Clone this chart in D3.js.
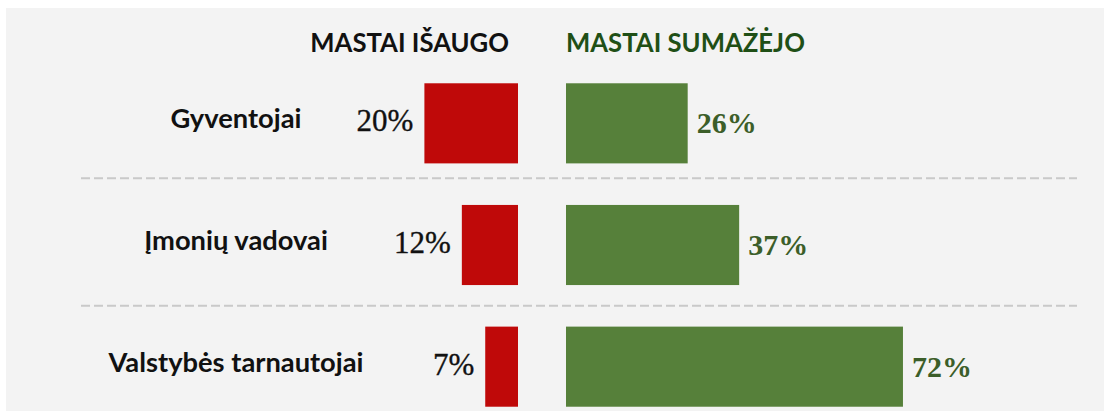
<!DOCTYPE html>
<html>
<head>
<meta charset="utf-8">
<script src="https://cdn.jsdelivr.net/npm/d3@7"></script>
<style>
  html, body { margin: 0; padding: 0; background: #ffffff; }
  svg { display: block; }
</style>
</head>
<body>
<svg id="chart" width="1104" height="411"></svg>
<script>
// ---- data ----
const categories = ["Gyventojai", "Įmonių vadovai", "Valstybės tarnautojai"];
const increased = [20, 12, 7];
const decreased = [26, 37, 72];
const headers = ["MASTAI IŠAUGO", "MASTAI SUMAŽĖJO"];

// ---- layout ----
const W = 1104, H = 411;
const svg = d3.select("#chart");
const splitLeft = 518, splitRight = 566;
const labelCenter = 236;

svg.append("rect").attr("x", 6).attr("y", 8).attr("width", W - 6).attr("height", H - 8)
  .attr("fill", "#f3f3f3");

const x = d3.scaleLinear().domain([0, 100]).range([0, 468]);
const y = d3.scaleBand().domain(categories)
  .range([62.5, 427.5]).paddingInner(0.3416).paddingOuter(0.1708);

const rows = categories.map((c, i) => ({ cat: c, inc: increased[i], dec: decreased[i] }));

// separators
const seps = categories.slice(1);
const sepY = (d, i) => y(d) - y.step() * y.paddingInner() / 2 - (i === 0 ? 6 : 0);
svg.selectAll("line.sep").data(seps).enter().append("line")
  .attr("class", "sep")
  .attr("x1", 81).attr("x2", 1077)
  .attr("y1", sepY).attr("y2", sepY)
  .attr("stroke", "#c9c9c9").attr("stroke-width", 2).attr("stroke-dasharray", "9,4");

// headers
svg.append("text").attr("x", 509).attr("y", 52).attr("text-anchor", "end")
  .attr("font-family", "Lato, 'Open Sans', sans-serif").attr("font-weight", 700)
  .attr("font-size", 25.7).attr("fill", "#111").text(headers[0]);
svg.append("text").attr("x", splitRight).attr("y", 52).attr("text-anchor", "start")
  .attr("font-family", "Lato, 'Open Sans', sans-serif").attr("font-weight", 700)
  .attr("font-size", 25.7).attr("fill", "#1f4f16").text(headers[1]);

// category labels
svg.selectAll("text.cat").data(rows).enter().append("text")
  .attr("class", "cat")
  .attr("x", labelCenter)
  .attr("y", d => y(d.cat) + y.bandwidth() / 2 + 5)
  .attr("text-anchor", "middle")
  .attr("font-family", "Lato, 'Open Sans', sans-serif").attr("font-weight", 700)
  .attr("font-size", 27.3).attr("fill", "#111")
  .text(d => d.cat);

// red bars (left)
svg.selectAll("rect.inc").data(rows).enter().append("rect")
  .attr("class", "inc")
  .attr("x", d => splitLeft - x(d.inc))
  .attr("y", d => y(d.cat))
  .attr("width", d => x(d.inc))
  .attr("height", y.bandwidth())
  .attr("fill", "#bf0909");

// green bars (right)
svg.selectAll("rect.dec").data(rows).enter().append("rect")
  .attr("class", "dec")
  .attr("x", splitRight)
  .attr("y", d => y(d.cat))
  .attr("width", d => x(d.dec))
  .attr("height", y.bandwidth())
  .attr("fill", "#56803a");

// value labels
svg.selectAll("text.incv").data(rows).enter().append("text")
  .attr("class", "incv")
  .attr("x", d => splitLeft - x(d.inc) - 11)
  .attr("y", d => y(d.cat) + y.bandwidth() / 2 + 8)
  .attr("text-anchor", "end")
  .attr("font-family", "'Liberation Serif', 'Times New Roman', serif")
  .attr("font-size", 31).attr("fill", "#111")
  .attr("stroke", "#111").attr("stroke-width", 0.35)
  .text(d => d.inc + "%");

svg.selectAll("text.decv").data(rows).enter().append("text")
  .attr("class", "decv")
  .attr("x", d => splitRight + x(d.dec) + 9)
  .attr("y", d => y(d.cat) + y.bandwidth() / 2 + 10)
  .attr("text-anchor", "start")
  .attr("font-family", "'Liberation Serif', 'Times New Roman', serif")
  .attr("font-weight", 700)
  .attr("font-size", 30).attr("fill", "#3c5e29")
  .text(d => d.dec + "%");
</script>
</body>
</html>
